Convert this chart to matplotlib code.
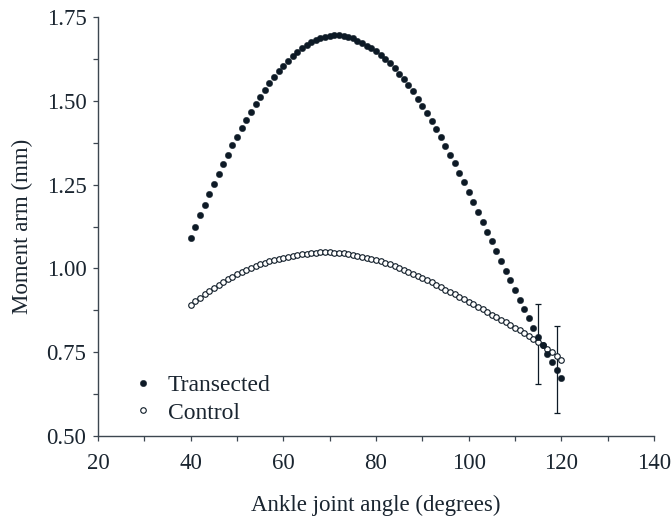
import matplotlib
matplotlib.use('Agg')
import matplotlib.pyplot as plt
import numpy as np

# ankle angle (degrees), one reading per degree
angle = list(range(40, 121))

transected = [
    1.092, 1.125, 1.158, 1.190, 1.222, 1.253, 1.283, 1.312, 1.340, 1.367,
    1.393, 1.418, 1.443, 1.467, 1.490, 1.512, 1.533, 1.553, 1.572, 1.589,
    1.605, 1.620, 1.634, 1.647, 1.658, 1.667, 1.675, 1.682, 1.687, 1.691,
    1.694, 1.696, 1.696, 1.694, 1.691, 1.687, 1.680, 1.672, 1.665, 1.657,
    1.648, 1.638, 1.626, 1.613, 1.598, 1.581, 1.566, 1.548, 1.529, 1.507,
    1.485, 1.465, 1.439, 1.415, 1.393, 1.366, 1.340, 1.314, 1.286, 1.258,
    1.228, 1.197, 1.168, 1.139, 1.110, 1.081, 1.051, 1.022, 0.993, 0.965,
    0.936, 0.907, 0.878, 0.851, 0.822, 0.796, 0.771, 0.746, 0.720, 0.696,
    0.673,
]

control = [
    0.892, 0.903, 0.913, 0.923, 0.933, 0.942, 0.951, 0.959, 0.967, 0.975,
    0.982, 0.989, 0.995, 1.001, 1.007, 1.012, 1.017, 1.021, 1.025, 1.029,
    1.032, 1.035, 1.038, 1.040, 1.042, 1.044, 1.046, 1.047, 1.048, 1.048,
    1.048, 1.047, 1.046, 1.045, 1.043, 1.040, 1.038, 1.035, 1.032, 1.029,
    1.025, 1.021, 1.017, 1.012, 1.007, 1.002, 0.996, 0.990, 0.984, 0.978,
    0.972, 0.965, 0.958, 0.951, 0.944, 0.937, 0.930, 0.923, 0.915, 0.908,
    0.900, 0.893, 0.885, 0.878, 0.870, 0.862, 0.855, 0.847, 0.839, 0.831,
    0.823, 0.815, 0.807, 0.798, 0.790, 0.781, 0.771, 0.761, 0.750, 0.739,
    0.727,
]

# error bars (low / high ends)
err_x = [115, 119]
err_lo = [0.655, 0.568]
err_hi = [0.893, 0.828]

dark = '#0d1a26'
axcol = '#3c4650'
txt = '#1a2530'

plt.rcParams['font.family'] = ['Liberation Serif', 'DejaVu Serif']
plt.rcParams['font.size'] = 16.5

fig = plt.figure(figsize=(6.72, 5.19), dpi=100)
ax = fig.add_axes([0.146, 0.160, 0.827, 0.807])

lo = np.array(err_lo)
hi = np.array(err_hi)
mid = (lo + hi) / 2.0
ax.errorbar(err_x, mid, yerr=(hi - lo) / 2.0, fmt='none', ecolor=dark,
            elinewidth=0.9, capsize=2.5, capthick=0.9, zorder=1)

ax.plot(angle, control, 'o', ms=4.0, mfc='white', mec=dark, mew=0.8,
        label='Control', zorder=2)
ax.plot(angle, transected, 'o', ms=4.6, mfc=dark, mec=dark, mew=0.3,
        label='Transected', zorder=3)

ax.set_xlim(20, 140)
ax.set_ylim(0.5, 1.75)
ax.set_xticks(range(20, 141, 20))
ax.set_xticks(range(30, 140, 20), minor=True)
ax.set_yticks([0.5, 0.75, 1.0, 1.25, 1.5, 1.75])
ax.set_yticks([0.625, 0.875, 1.125, 1.375, 1.625], minor=True)
ax.set_yticklabels(['0.50', '0.75', '1.00', '1.25', '1.50', '1.75'])

for s in ['top', 'right']:
    ax.spines[s].set_visible(False)
for s in ['left', 'bottom']:
    ax.spines[s].set_color(axcol)
    ax.spines[s].set_linewidth(1.0)
ax.tick_params(which='both', direction='out', length=3.5, width=0.9,
               color=axcol, labelcolor=txt)
ax.tick_params(axis='x', pad=9)
ax.tick_params(axis='y', pad=5)

ax.set_xlabel('Ankle joint angle (degrees)', color=txt, labelpad=15)
ax.set_ylabel('Moment arm (mm)', color=txt, labelpad=10)

h, l = ax.get_legend_handles_labels()
leg = ax.legend(h[::-1], l[::-1], loc='lower left', frameon=False,
                bbox_to_anchor=(0.021, -0.021), handletextpad=0.55,
                labelspacing=0.25, handlelength=1.0, fontsize=17)
for t in leg.get_texts():
    t.set_color(txt)

fig.savefig('out.png', dpi=100)
